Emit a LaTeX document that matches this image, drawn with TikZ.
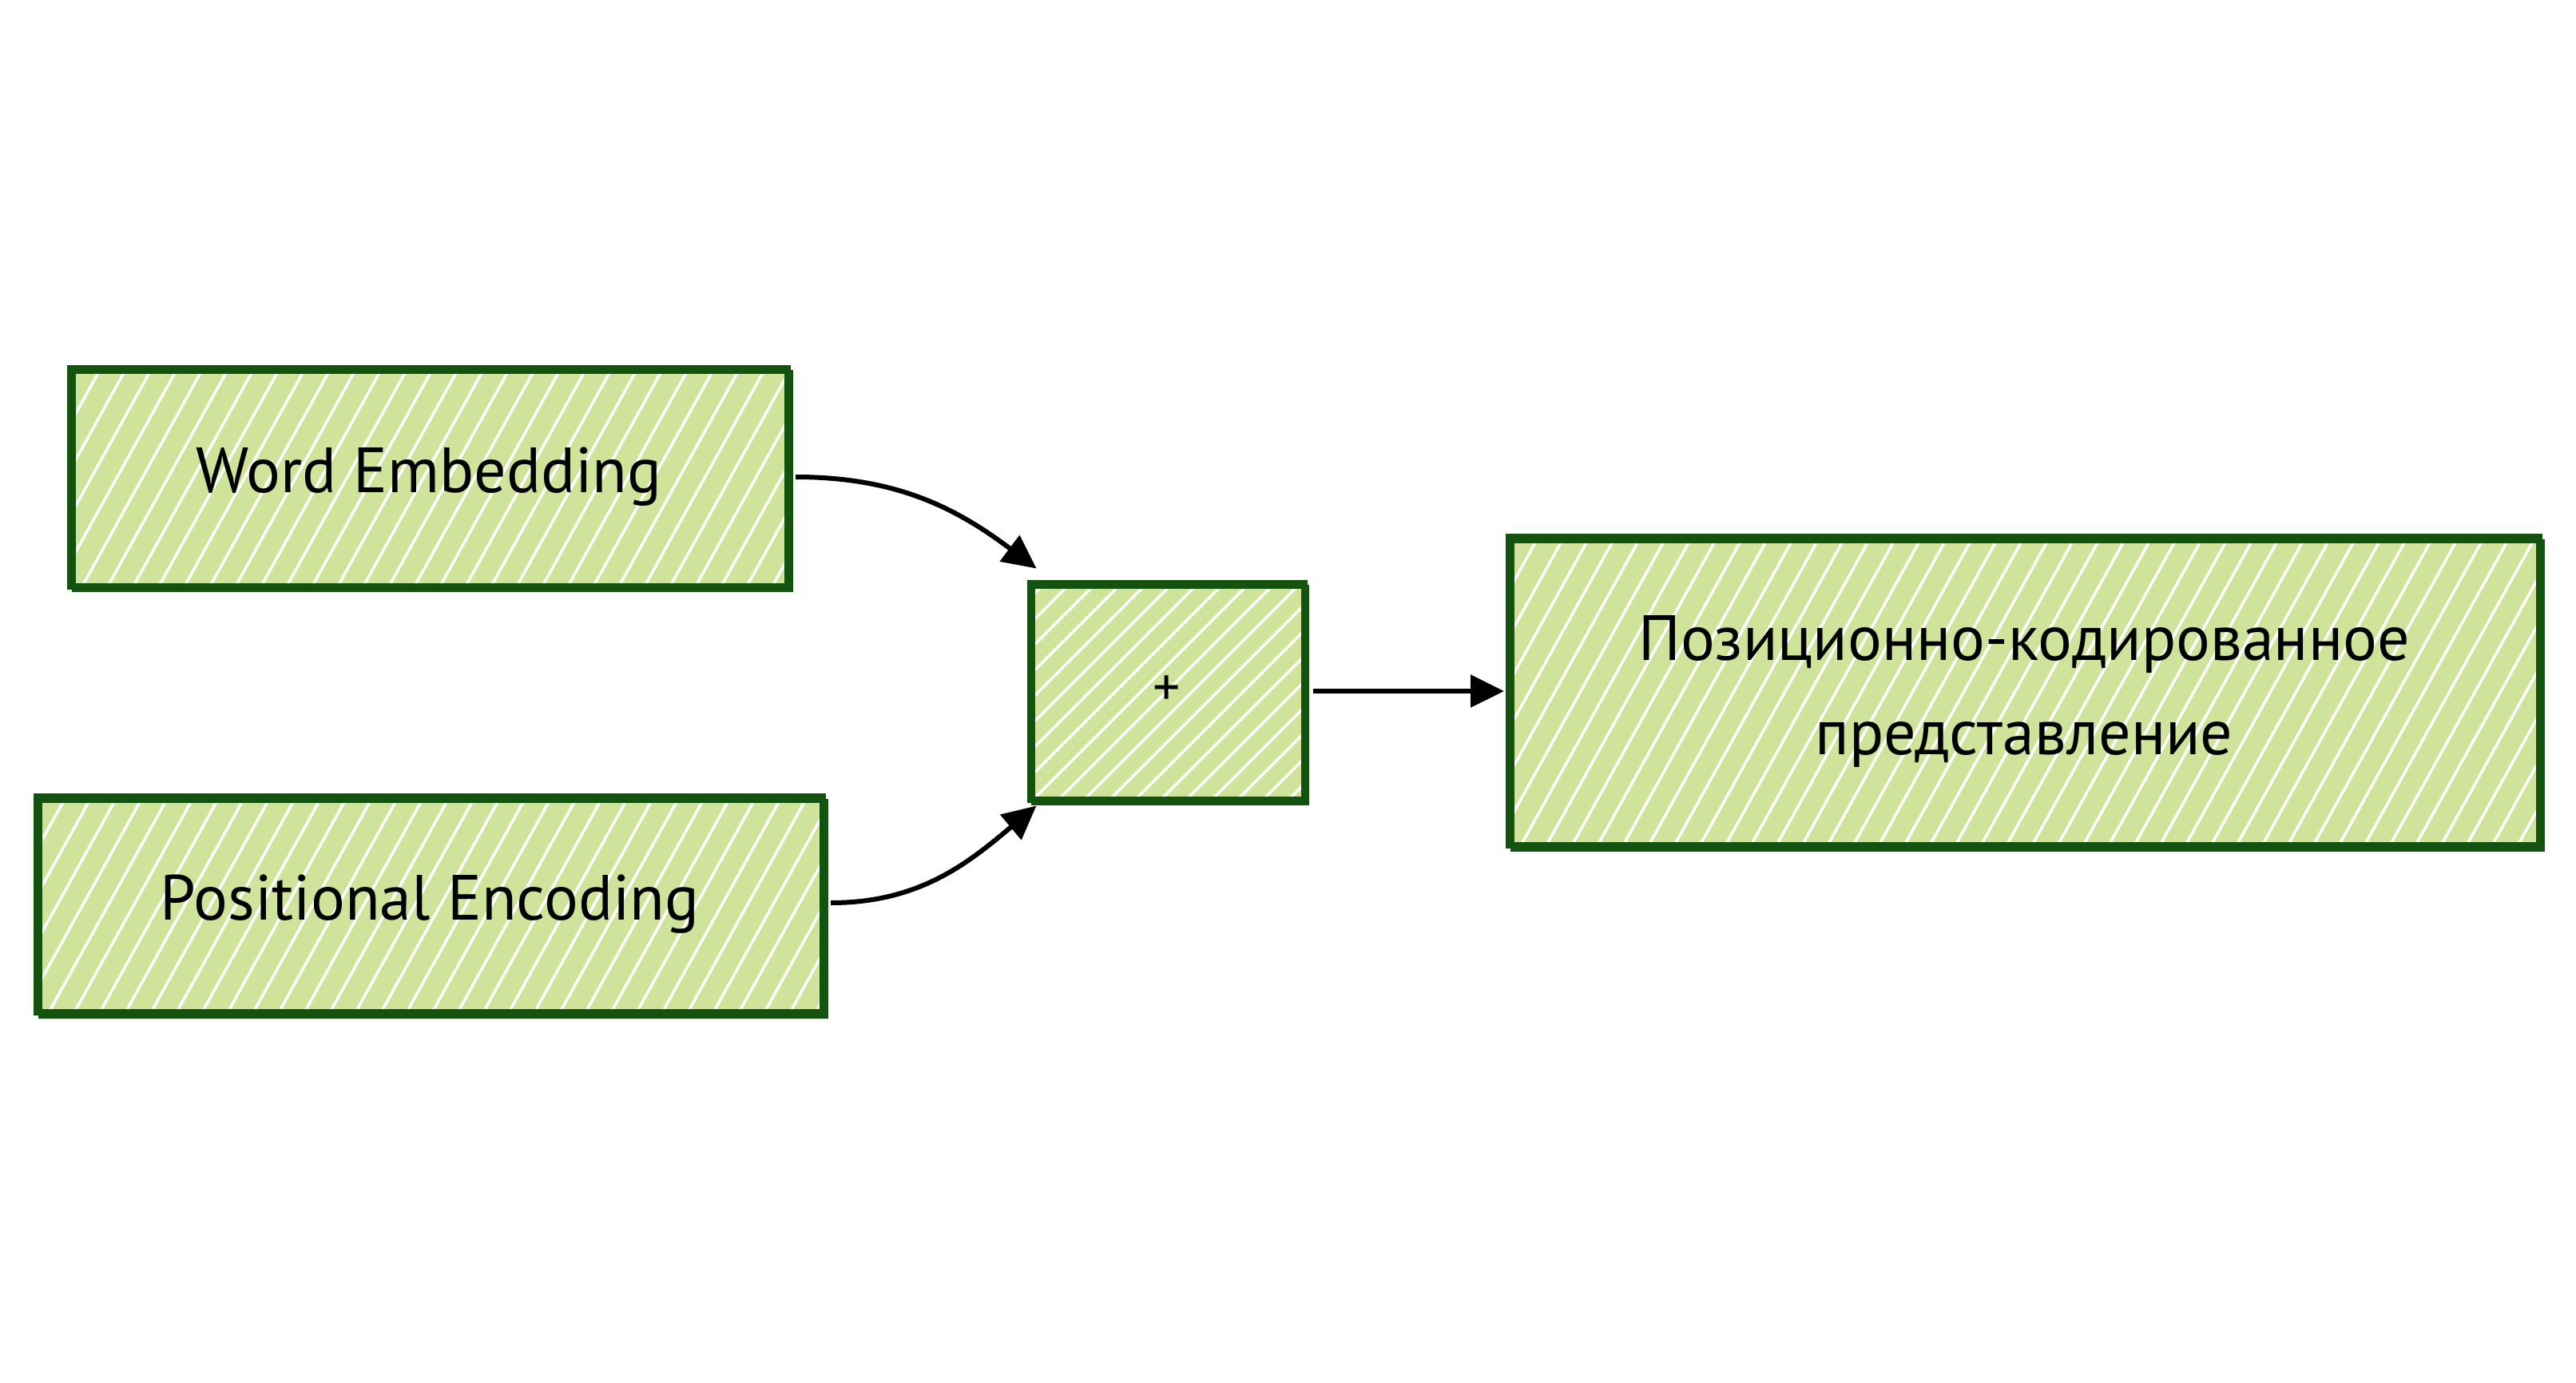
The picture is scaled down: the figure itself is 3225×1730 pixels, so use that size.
\documentclass[tikz,border=0pt]{standalone}
\usepackage{fontspec}
\setmainfont{PT Sans}
\usetikzlibrary{arrows.meta}
\definecolor{bord}{HTML}{14520F}
\definecolor{fillg}{HTML}{CFE39A}
\tikzset{
  sketchbox/.style={draw=bord, line width=8pt, fill=fillg, inner sep=0pt,
    align=center, font=\fontsize{80}{118}\selectfont, text=black,
    postaction={draw=bord, line width=5pt, transform canvas={shift={(4pt,-5pt)}}}},
  hatchsteep/.style={path picture={
    \foreach \i in {-700,-668,...,1500}
      \draw[white, line width=3.5pt] (path picture bounding box.south west) ++(\i pt,-20pt) -- ++(61:1800pt);}},
  hatchdiag/.style={path picture={
    \foreach \i in {-400,-368,...,500}
      \draw[white, line width=3.5pt] (path picture bounding box.south west) ++(\i pt,-20pt) -- ++(45:1000pt);}},
  arr/.style={draw=black, line width=6pt, -{Triangle[length=42pt,width=40pt]}}
}
\begin{document}
\begin{tikzpicture}[x=1pt,y=-1pt]
\useasboundingbox (0,0) rectangle (3225,1730);
\node[sketchbox, hatchsteep, minimum width=898pt, minimum height=273pt] (we) at (537,597) {Word Embedding};
\node[sketchbox, hatchsteep, minimum width=984pt, minimum height=270pt] (pe) at (538,1132) {Positional Encoding};
\node[sketchbox, hatchdiag, minimum width=343pt, minimum height=271pt, font=\fontsize{68}{80}\selectfont] (plus) at (1461,865) {+};
\node[sketchbox, hatchsteep, minimum width=1290pt, minimum height=386pt] (out) at (2534,865) {Позиционно-кодированное\\представление};
\draw[arr] ([xshift=6pt]we.east) to[out=0, in=143] ([xshift=12pt,yshift=14pt]plus.north west);
\draw[arr] ([xshift=6pt,yshift=2pt]pe.east) to[out=0, in=-140] ([xshift=12pt,yshift=-4pt]plus.south west);
\draw[arr] ([xshift=7pt]plus.east) -- ([xshift=-2pt]out.west);
\end{tikzpicture}
\end{document}
